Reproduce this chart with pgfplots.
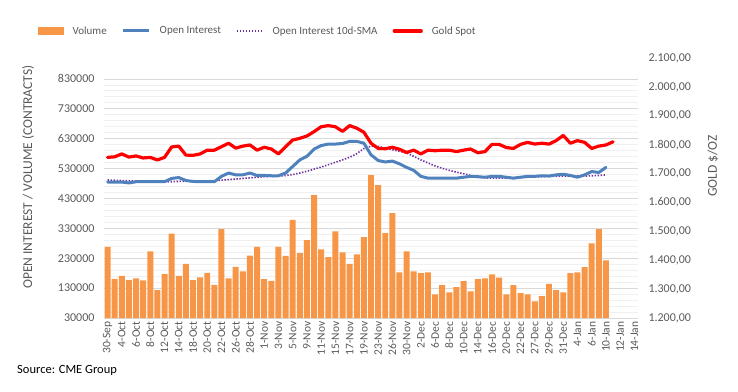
\documentclass[border=0pt]{standalone}
\usepackage{pgfplots}
\pgfplotsset{compat=1.18}
\usepackage{pgfplotstable}
\usepackage{fontspec}
\setmainfont{Carlito}
\definecolor{vol}{HTML}{F79646}
\definecolor{oi}{HTML}{4F81BD}
\definecolor{sma}{HTML}{7030A0}
\definecolor{txt}{HTML}{595959}
\definecolor{gridd}{HTML}{D9D9D9}
\definecolor{gridl}{HTML}{F0F0F0}

\pgfplotstableread{
x vol oi sma
0 268000 485000 492000
1 161000 485000 491000
2 171000 485000 490000
3 157000 482000 489000
4 163000 486000 488000
5 156000 486000 488000
6 253000 486000 487000
7 123000 486000 486000
8 177000 486000 486000
9 312000 497000 486000
10 171000 500000 487000
11 211000 490000 488000
12 157000 487000 488000
13 166000 486000 489000
14 181000 486000 489000
15 141000 486000 490000
16 327000 504000 491000
17 163000 515000 493000
18 201000 509000 495000
19 186000 509000 497000
20 239000 515000 499000
21 268000 507000 501000
22 160000 507000 503000
23 154000 506000 504000
24 268000 506000 505000
25 238000 515000 507000
26 358000 537000 510000
27 247000 559000 515000
28 291000 571000 521000
29 441000 595000 528000
30 260000 607000 535000
31 234000 612000 543000
32 320000 612000 551000
33 250000 614000 559000
34 211000 621000 568000
35 243000 621000 580000
36 301000 615000 597000
37 508000 576000 605000
38 475000 557000 604000
39 314000 552000 599000
40 381000 555000 593000
41 183000 546000 588000
42 253000 534000 582000
43 186000 524000 571000
44 180000 504000 559000
45 183000 498000 549000
46 109000 498000 539000
47 140000 498000 531000
48 116000 498000 524000
49 133000 498000 518000
50 153000 501000 513000
51 119000 504000 507000
52 160000 503000 501000
53 163000 501000 499000
54 176000 504000 498000
55 165000 504000 498000
56 109000 501000 498000
57 140000 498000 499000
58 113000 501000 501000
59 109000 504000 501000
60 86000 504000 502000
61 103000 506000 503000
62 144000 505000 504000
63 123000 509000 504000
64 116000 511000 505000
65 180000 507000 505000
66 183000 501000 505000
67 200000 509000 505000
68 280000 520000 506000
69 327000 517000 507000
70 223000 534000 509000
}\maindata

\pgfplotstableread{
x gold
0 1756
1 1758
2 1768
3 1757
4 1761
5 1754
6 1756
7 1747
8 1756
9 1792
10 1795
11 1764
12 1763
13 1768
14 1781
15 1781
16 1793
17 1805
18 1788
19 1795
20 1799
21 1781
22 1791
23 1785
24 1768
25 1793
26 1816
27 1822
28 1830
29 1845
30 1862
31 1866
32 1862
33 1846
34 1866
35 1857
36 1843
37 1805
38 1787
39 1786
40 1791
41 1784
42 1773
43 1781
44 1768
45 1781
46 1779
47 1781
48 1781
49 1776
50 1781
51 1785
52 1772
53 1776
54 1801
55 1801
56 1790
57 1787
58 1801
59 1808
60 1802
61 1805
62 1802
63 1814
64 1832
65 1805
66 1814
67 1808
68 1787
69 1795
70 1799
71 1810
}\golddata

\pgfplotsset{
  common/.style={
    at={(104pt,73pt)}, anchor=south west, scale only axis,
    width=534pt, height=260pt,
    xmin=-0.5, xmax=74.5,
    tick label style={font=\fontsize{12}{14}\selectfont, text=txt},
    /pgf/number format/assume math mode=true,
  },
}

\begin{document}
\begin{tikzpicture}
\useasboundingbox (0,0) rectangle (738pt,391pt);
\begin{axis}[common,
  ymin=30000, ymax=900000,
  axis y line*=left, axis x line*=bottom,
  y axis line style={draw=none},
  x axis line style={draw=gridd, line width=0.8pt},
  ytick={30000,130000,...,830000},
  minor y tick num=4,
  ymajorgrids, yminorgrids,
  major grid style={draw=gridd, line width=0.8pt},
  minor grid style={draw=gridl, line width=0.8pt},
  ytick style={draw=none}, minor y tick style={draw=none},
  scaled y ticks=false,
  yticklabel style={xshift=-6pt, /pgf/number format/.cd, fixed, 1000 sep={}},
  xtick={0,2,...,74},
  xticklabels={30-Sep,4-Oct,6-Oct,8-Oct,12-Oct,14-Oct,18-Oct,20-Oct,22-Oct,26-Oct,28-Oct,1-Nov,3-Nov,5-Nov,9-Nov,11-Nov,15-Nov,17-Nov,19-Nov,23-Nov,26-Nov,30-Nov,2-Dec,6-Dec,8-Dec,10-Dec,14-Dec,16-Dec,20-Dec,22-Dec,27-Dec,29-Dec,31-Dec,4-Jan,6-Jan,10-Jan,12-Jan,14-Jan},
  xticklabel style={rotate=90, anchor=east, font=\fontsize{11.5}{13}\selectfont},
  xtick style={draw=none},
  extra x ticks={-0.5,1.5,...,73.5,74.5},
  extra x tick labels={},
  extra x tick style={grid=none, major tick length=4pt, tick align=outside, tick style={draw=gridd, line width=0.8pt}},
  clip=false,
]
\addplot[ybar, bar width=0.84, fill=vol, draw=none] table[x=x, y=vol] {\maindata};
\addplot[sma, line width=1.6pt, dash pattern=on 1.4pt off 1.6pt, no markers] table[x=x, y=sma] {\maindata};
\addplot[oi, line width=3pt, no markers, line join=round, line cap=round] table[x=x, y=oi] {\maindata};
\end{axis}
\begin{axis}[common,
  ymin=1200, ymax=2100,
  axis y line*=right, axis x line=none,
  y axis line style={draw=none},
  ytick={1200,1300,...,2100},
  ytick style={draw=none},
  yticklabel style={xshift=7pt, /pgf/number format/.cd, fixed, fixed zerofill, precision=2, use comma, 1000 sep={.}},
  legend style={at={(-0.1236,1.104)}, anchor=west, draw=none, fill=none, inner sep=0pt,
    font=\fontsize{11}{13}\selectfont, text=txt,
    /tikz/every odd column/.append style={column sep=7pt},
    /tikz/every even column/.append style={column sep=13pt}},
  legend columns=4,
  legend cell align=left,
]
\addlegendimage{legend image code/.code={\fill[vol] (0pt,-3.6pt) rectangle (25pt,3.6pt);}}
\addlegendentry{Volume}
\addlegendimage{legend image code/.code={\draw[oi, line width=3pt] (0pt,0pt) -- (26pt,0pt);}}
\addlegendentry{Open Interest}
\addlegendimage{legend image code/.code={\draw[sma, line width=1.6pt, dash pattern=on 1.4pt off 1.6pt] (0pt,0pt) -- (26pt,0pt);}}
\addlegendentry{Open Interest 10d-SMA}
\addplot[red, line width=3.2pt, no markers, line join=round, line cap=round,
  legend image code/.code={\draw[red, line width=3.2pt] (0pt,0pt) -- (27pt,0pt);}] table[x=x, y=gold] {\golddata};
\addlegendentry{Gold Spot}
\end{axis}
\node[rotate=90, text=txt, font=\fontsize{13.5}{15}\selectfont] at (28pt,214pt) {OPEN INTEREST / VOLUME (CONTRACTS)};
\node[rotate=90, text=txt, font=\fontsize{13.5}{15}\selectfont] at (713pt,225pt) {GOLD \$/OZ};
\node[anchor=west, text=black, font=\fontsize{12.5}{14}\selectfont, inner sep=0pt] at (17pt,21pt) {Source: CME Group};
\end{tikzpicture}
\end{document}
